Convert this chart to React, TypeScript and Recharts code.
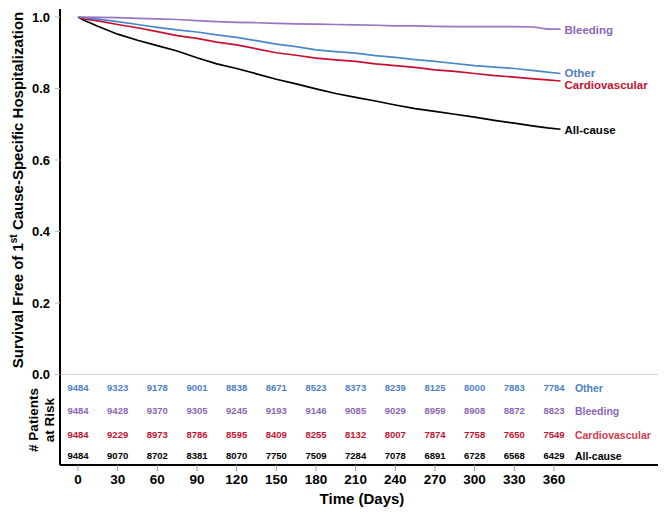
import React from "react";
import { ComposedChart, Line, XAxis, YAxis, ReferenceLine, ReferenceDot } from "recharts";

const days = [0, 5, 15, 30, 45, 60, 75, 90, 105, 120, 135, 150, 165, 180, 195, 210, 225, 240, 255, 270, 285, 300, 315, 330, 345, 355, 365];
const allCause = [1, 0.99, 0.974, 0.952, 0.935, 0.92, 0.905, 0.886, 0.869, 0.856, 0.841, 0.826, 0.813, 0.799, 0.786, 0.775, 0.765, 0.754, 0.744, 0.736, 0.728, 0.72, 0.711, 0.703, 0.695, 0.69, 0.686];
const cardiovascular = [1, 0.995, 0.989, 0.979, 0.97, 0.959, 0.948, 0.94, 0.93, 0.922, 0.911, 0.9, 0.893, 0.885, 0.88, 0.876, 0.869, 0.864, 0.859, 0.852, 0.848, 0.842, 0.836, 0.832, 0.827, 0.824, 0.821];
const other = [1, 0.998, 0.994, 0.987, 0.979, 0.971, 0.964, 0.958, 0.95, 0.943, 0.934, 0.924, 0.917, 0.908, 0.903, 0.899, 0.892, 0.887, 0.881, 0.876, 0.87, 0.864, 0.86, 0.856, 0.85, 0.846, 0.842];
const bleeding = [1, 1, 0.999, 0.998, 0.996, 0.995, 0.993, 0.99, 0.987, 0.985, 0.984, 0.982, 0.981, 0.98, 0.979, 0.978, 0.977, 0.975, 0.975, 0.974, 0.973, 0.973, 0.973, 0.973, 0.972, 0.966, 0.966];

const xTicks = [0, 30, 60, 90, 120, 150, 180, 210, 240, 270, 300, 330, 360];
const yTicks = [0, 0.2, 0.4, 0.6, 0.8, 1.0];

const riskDays = [0, 30, 60, 90, 120, 150, 180, 210, 240, 270, 300, 330, 360];
const riskOther = [9484, 9323, 9178, 9001, 8838, 8671, 8523, 8373, 8239, 8125, 8000, 7883, 7784];
const riskBleeding = [9484, 9428, 9370, 9305, 9245, 9193, 9146, 9085, 9029, 8959, 8908, 8872, 8823];
const riskCardio = [9484, 9229, 8973, 8786, 8595, 8409, 8255, 8132, 8007, 7874, 7758, 7650, 7549];
const riskAll = [9484, 9070, 8702, 8381, 8070, 7750, 7509, 7284, 7078, 6891, 6728, 6568, 6429];

const seriesNames = ["All-cause", "Cardiovascular", "Other", "Bleeding"];

const COLORS: Record<string, string> = {
  "All-cause": "#000000",
  Cardiovascular: "#c8102e",
  Other: "#4a87c9",
  Bleeding: "#9a74c1",
};
const TEXT_COLORS: Record<string, string> = {
  "All-cause": "#000000",
  Cardiovascular: "#c41230",
  Other: "#4d80c4",
  Bleeding: "#8c66b4",
};

const data = days.map((d, i) => ({
  day: d,
  "All-cause": allCause[i],
  Cardiovascular: cardiovascular[i],
  Other: other[i],
  Bleeding: bleeding[i],
}));

const FONT = "'Liberation Sans', Arial, Helvetica, sans-serif";

// layout rows for the risk table (in y-axis units)
const riskRows = [
  { name: "Other", values: riskOther, y: -0.038 },
  { name: "Bleeding", values: riskBleeding, y: -0.102 },
  { name: "Cardiovascular", values: riskCardio, y: -0.169 },
  { name: "All-cause", values: riskAll, y: -0.228 },
];

const endLabelDy: Record<string, number> = {
  "All-cause": 1,
  Cardiovascular: 4,
  Other: -1,
  Bleeding: 1,
};

const YTitle = () => (
  <g>
    <text
      x={18}
      y={190}
      transform="rotate(-90, 18, 190)"
      textAnchor="middle"
      dy="0.35em"
      fontFamily={FONT}
      fontWeight="bold"
      fontSize={15}
      fill="#000"
    >
      Survival Free of 1
      <tspan fontSize={10} dy={-6}>st</tspan>
      <tspan dy={6}> Cause-Specific Hospitalization</tspan>
    </text>
    <text
      x={33}
      y={420}
      transform="rotate(-90, 33, 420)"
      textAnchor="middle"
      dy="0.35em"
      fontFamily={FONT}
      fontWeight="bold"
      fontSize={13.5}
      fill="#000"
    >
      # Patients
    </text>
    <text
      x={49}
      y={420}
      transform="rotate(-90, 49, 420)"
      textAnchor="middle"
      dy="0.35em"
      fontFamily={FONT}
      fontWeight="bold"
      fontSize={13.5}
      fill="#000"
    >
      at Risk
    </text>
  </g>
);

const XTitle = () => (
  <text
    x={362}
    y={499}
    textAnchor="middle"
    dy="0.35em"
    fontFamily={FONT}
    fontWeight="bold"
    fontSize={15}
    fill="#000"
  >
    Time (Days)
  </text>
);

export default function App() {
  const lastIdx = days.length - 1;
  return (
    <div style={{ position: "absolute", left: 0, top: 0, width: 668, height: 517, background: "#fff", fontFamily: FONT }}>
      <ComposedChart
        width={668}
        height={517}
        data={data}
        margin={{ top: 9, right: 10, left: 0, bottom: 0 }}
      >
        <XAxis
          dataKey="day"
          type="number"
          domain={[-13.6, 438.7]}
          allowDataOverflow
          ticks={xTicks}
          height={52}
          axisLine={{ stroke: "#000", strokeWidth: 2 }}
          tickLine={{ stroke: "#999" }}
          tickSize={6}
          tickMargin={3}
          tick={{ fill: "#000", fontSize: 13.5, fontWeight: "bold", fontFamily: FONT }}
          interval={0}
          label={{ content: () => <XTitle /> }}
        />
        <YAxis
          type="number"
          domain={[-0.253, 1.0224]}
          allowDataOverflow
          ticks={yTicks}
          width={60}
          axisLine={{ stroke: "#000", strokeWidth: 2 }}
          tickLine={{ stroke: "#bbb" }}
          tickSize={5}
          tickMargin={5}
          tickFormatter={(v: number) => v.toFixed(1)}
          tick={{ fill: "#000", fontSize: 13, fontWeight: "bold", fontFamily: FONT }}
          interval={0}
          label={{ content: () => <YTitle /> }}
        />
        <ReferenceLine y={0} stroke="#d3d3d3" strokeWidth={1} />
        {seriesNames.map((s) => (
          <Line
            key={s}
            dataKey={s}
            type="linear"
            stroke={COLORS[s]}
            strokeWidth={1.7}
            dot={false}
            isAnimationActive={false}
          />
        ))}
        {seriesNames.map((s) => (
          <ReferenceDot
            key={"end-" + s}
            x={days[lastIdx]}
            y={data[lastIdx][s as keyof (typeof data)[0]] as number}
            ifOverflow="visible"
            shape={(p: any) => (
              <text
                x={p.cx + 4}
                y={p.cy + endLabelDy[s]}
                dy="0.35em"
                fontFamily={FONT}
                fontWeight="bold"
                fontSize={11.5}
                fill={TEXT_COLORS[s]}
              >
                {s}
              </text>
            )}
          />
        ))}
        {riskRows.map((row) =>
          row.values.map((v, i) => (
            <ReferenceDot
              key={row.name + i}
              x={riskDays[i]}
              y={row.y}
              ifOverflow="visible"
              shape={(p: any) => (
                <g>
                  <text
                    x={p.cx}
                    y={p.cy}
                    dy="0.35em"
                    textAnchor="middle"
                    fontFamily={FONT}
                    fontWeight="bold"
                    fontSize={9.5}
                    fill={TEXT_COLORS[row.name]}
                  >
                    {v}
                  </text>
                  {i === row.values.length - 1 ? (
                    <text
                      x={p.cx + 21}
                      y={p.cy}
                      dy="0.35em"
                      fontFamily={FONT}
                      fontWeight="bold"
                      fontSize={10.5}
                      fill={row.name === "Cardiovascular" ? "#d04050" : TEXT_COLORS[row.name]}
                    >
                      {row.name}
                    </text>
                  ) : null}
                </g>
              )}
            />
          ))
        )}
      </ComposedChart>
    </div>
  );
}
